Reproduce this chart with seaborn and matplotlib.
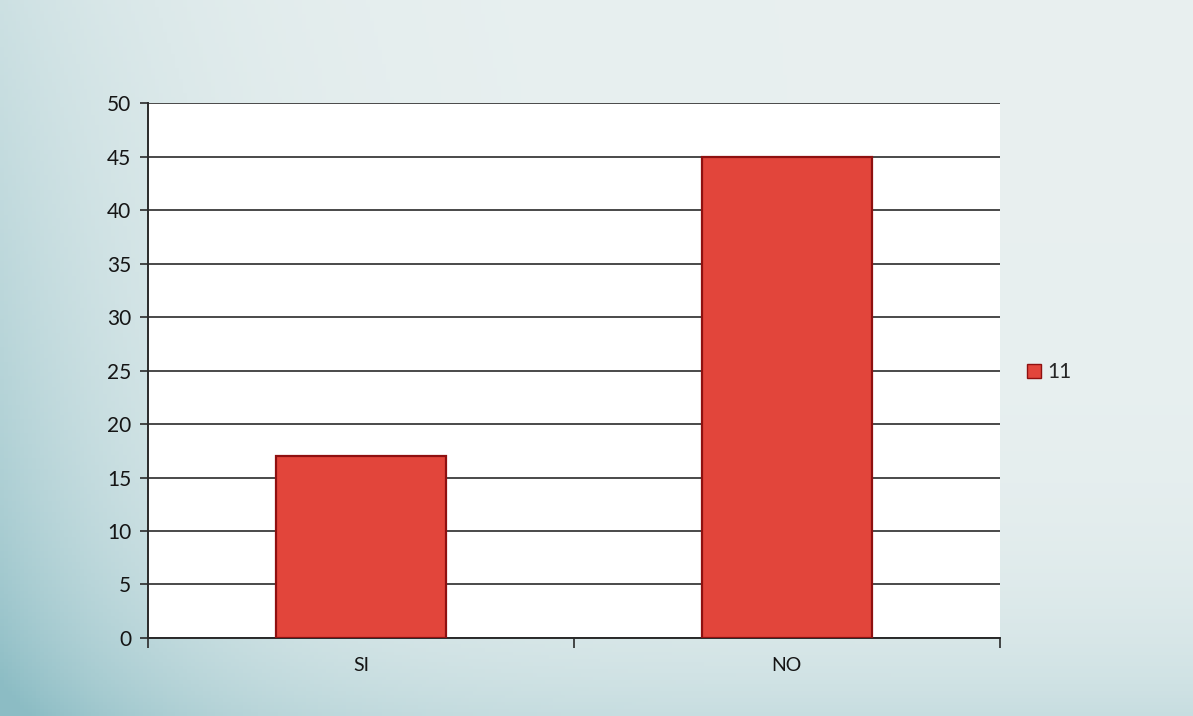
import numpy as np
import pandas as pd
import matplotlib
matplotlib.use("Agg")
import matplotlib.pyplot as plt
import seaborn as sns
from matplotlib.patches import Patch

categories = ["SI", "NO"]
values = [17, 45]
series_name = "11"
y_ticks = [0, 5, 10, 15, 20, 25, 30, 35, 40, 45, 50]

sns.set_style("white")
plt.rcParams["font.family"] = ["Lato", "DejaVu Sans"]

fig = plt.figure(figsize=(11.93, 7.16), dpi=100)

# soft bluish-grey backdrop with a darker teal toward the lower left
bg = fig.add_axes([0, 0, 1, 1], zorder=-10)
yy, xx = np.mgrid[0:1:200j, 0:1:300j]   # yy: 0 at top, 1 at bottom
shade = np.clip(0.75 * (1 - xx) ** 6 * (0.4 + 0.6 * yy) + 0.35 * yy ** 6, 0, 1)
top = np.array([0.91, 0.94, 0.94])
low = np.array([0.55, 0.74, 0.77])
img = top[None, None, :] * (1 - shade[..., None]) + low[None, None, :] * shade[..., None]
bg.imshow(img, extent=[0, 1, 0, 1], origin="upper", aspect="auto")
bg.axis("off")

ax = fig.add_axes([0.124, 0.109, 0.714, 0.747])
ax.set_facecolor("white")

df = pd.DataFrame({"categoria": categories, "valor": values})
sns.barplot(data=df, x="categoria", y="valor", color="#e2453b", saturation=1,
            width=0.4, edgecolor="#8f1010", linewidth=1.6, ax=ax, zorder=3)

ax.set_ylim(0, 50)
ax.set_xlim(-0.5, 1.5)
ax.set_yticks(y_ticks)
ax.yaxis.grid(True, color="#3a3a3a", linewidth=1.3)
ax.set_axisbelow(True)

for side in ["top", "right"]:
    ax.spines[side].set_visible(False)
for side in ["left", "bottom"]:
    ax.spines[side].set_color("#2a2a2a")
    ax.spines[side].set_linewidth(1.4)

ax.tick_params(axis="y", which="major", direction="out", length=6, left=True,
               width=1.2, color="#2a2a2a", labelsize=15, pad=6)
ax.tick_params(axis="x", which="major", length=0, labelsize=14, pad=14)
ax.set_xticks([-0.5, 0.5, 1.5], minor=True)
ax.tick_params(axis="x", which="minor", direction="out", length=7, bottom=True,
               width=1.2, color="#2a2a2a")

ax.set_xlabel("")
ax.set_ylabel("")
for lbl in ax.get_yticklabels() + ax.get_xticklabels():
    lbl.set_color("#151515")

handle = Patch(facecolor="#e2453b", edgecolor="#8f1010", label=series_name)
fig.legend(handles=[handle], loc="center left", bbox_to_anchor=(0.845, 0.48),
           frameon=False, fontsize=15, handlelength=0.7, handleheight=0.7,
           handletextpad=0.3)

fig.savefig("out.png", dpi=100)
